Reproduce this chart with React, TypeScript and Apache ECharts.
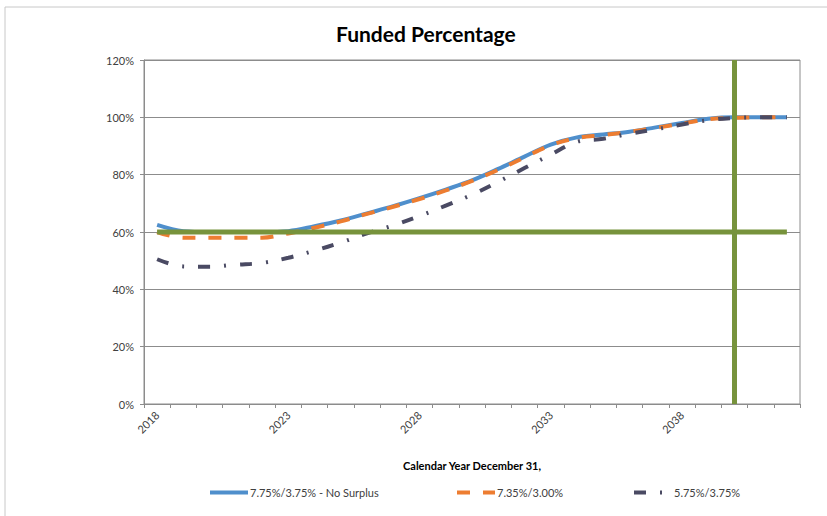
import React, { useEffect, useRef } from "react";
import * as echarts from "echarts";

const years = [
  "2018", "2019", "2020", "2021", "2022", "2023", "2024", "2025", "2026", "2027",
  "2028", "2029", "2030", "2031", "2032", "2033", "2034", "2035", "2036", "2037",
  "2038", "2039", "2040", "2041", "2042",
];

const noSurplus = [
  62.5, 60.3, 60, 60, 60, 60.3, 62, 64, 66.5, 69,
  71.8, 74.8, 78, 82, 86.3, 90.5, 93, 94, 95, 96.5,
  98, 99.5, 100, 100, 100,
];

const scen735 = [
  60, 58, 58, 58, 58, 59.5, 61.5, 63.7, 66.3, 68.8,
  71.5, 74.5, 77.8, 81.7, 86, 90.3, 92.8, 93.8, 95, 96.3,
  97.8, 99.3, 99.8, 100, 100,
];

const scen575 = [
  50.5, 48, 47.9, 48.6, 49.2, 51, 53.5, 56.3, 59.5, 62.3,
  65.6, 69.2, 73, 77.5, 82.3, 87, 91.5, 92.5, 94.3, 95.8,
  97.5, 99, 99.8, 100, 100,
];

const target = [
  60, 60, 60, 60, 60, 60, 60, 60, 60, 60,
  60, 60, 60, 60, 60, 60, 60, 60, 60, 60,
  60, 60, 60, 60, 60,
];

const seriesNames = ["7.75%/3.75% - No Surplus", "7.35%/3.00%", "5.75%/3.75%"];
const markYear = "2040";

const FONT = "Lato, 'Noto Sans', sans-serif";
const GREEN = "#77933C";

export default function App() {
  const ref = useRef<HTMLDivElement>(null);
  useEffect(() => {
    if (!ref.current) return;
    const chart = echarts.init(ref.current, undefined, { renderer: "svg" });
    const legendCommon = {
      top: 487,
      itemWidth: 38,
      itemHeight: 14,
      itemGap: 3,
      textStyle: { fontFamily: FONT, fontSize: 11, color: "#404040", padding: [0, 0, 0, -3] },
      itemStyle: { opacity: 0, borderWidth: 0 },
      lineStyle: { width: 4 },
      padding: 0,
      selectedMode: false,
    };
    chart.setOption({
      animation: false,
      backgroundColor: "#ffffff",
      title: {
        text: "Funded Percentage",
        left: 331,
        top: 18,
        textStyle: { fontFamily: FONT, fontSize: 21, fontWeight: "bold", color: "#000" },
      },
      graphic: [
        {
          type: "rect",
          shape: { x: 5, y: 7, width: 830, height: 520 },
          style: { fill: "none", stroke: "#c8c8c8", lineWidth: 1 },
          silent: true,
        },
      ],
      grid: {
        left: 144,
        right: 27,
        top: 60,
        bottom: 112,
        show: true,
        borderColor: "#8c8c8c",
        borderWidth: 1,
      },
      legend: [
        { ...legendCommon, data: [seriesNames[0]], left: 208 },
        { ...legendCommon, data: [seriesNames[1]], left: 455 },
        { ...legendCommon, data: [seriesNames[2]], left: 632 },
      ],
      xAxis: {
        type: "category",
        data: years,
        boundaryGap: true,
        name: "Calendar Year December 31,",
        nameLocation: "middle",
        nameGap: 56,
        nameTextStyle: { fontFamily: FONT, fontSize: 11, fontWeight: "bold", color: "#000" },
        axisLine: { lineStyle: { color: "#8c8c8c", width: 1 } },
        axisTick: { show: true, interval: 0, length: 4, lineStyle: { color: "#8c8c8c" } },
        axisLabel: {
          interval: 4,
          rotate: 45,
          margin: 9,
          fontFamily: FONT,
          fontSize: 11,
          color: "#404040",
        },
        splitLine: { show: false },
      },
      yAxis: {
        type: "value",
        min: 0,
        max: 120,
        interval: 20,
        axisLine: { show: true, lineStyle: { color: "#8c8c8c", width: 1 } },
        axisTick: { show: true, length: 4, lineStyle: { color: "#8c8c8c" } },
        axisLabel: {
          formatter: "{value}%",
          fontFamily: FONT,
          fontSize: 11,
          color: "#404040",
          margin: 10,
        },
        splitLine: { show: true, lineStyle: { color: "#8c8c8c", width: 1 } },
      },
      series: [
        {
          name: seriesNames[0],
          type: "line",
          data: noSurplus,
          smooth: 0.35,
          symbol: "none",
          lineStyle: { color: "#4F8FCC", width: 4 },
          itemStyle: { color: "#4F8FCC" },
          z: 2,
        },
        {
          name: seriesNames[1],
          type: "line",
          data: scen735,
          smooth: 0.35,
          symbol: "none",
          lineStyle: { color: "#ED7D31", width: 4, type: [13, 13], cap: "butt" },
          itemStyle: { color: "#ED7D31" },
          z: 3,
        },
        {
          name: seriesNames[2],
          type: "line",
          data: scen575,
          smooth: 0.35,
          symbol: "none",
          lineStyle: { color: "#4A4A63", width: 4, type: [12, 14, 2, 14], cap: "butt" },
          itemStyle: { color: "#4A4A63" },
          z: 4,
        },
        {
          name: "Target",
          type: "line",
          data: target,
          symbol: "none",
          lineStyle: { color: GREEN, width: 5 },
          itemStyle: { color: GREEN },
          z: 5,
          markLine: {
            silent: true,
            symbol: ["none", "none"],
            label: { show: false },
            lineStyle: { color: GREEN, width: 5, type: "solid" },
            data: [{ xAxis: markYear }],
          },
        },
      ],
    });
    return () => chart.dispose();
  }, []);
  return (
    <div
      ref={ref}
      style={{ position: "fixed", left: 0, top: 0, width: 827, height: 516 }}
    />
  );
}
